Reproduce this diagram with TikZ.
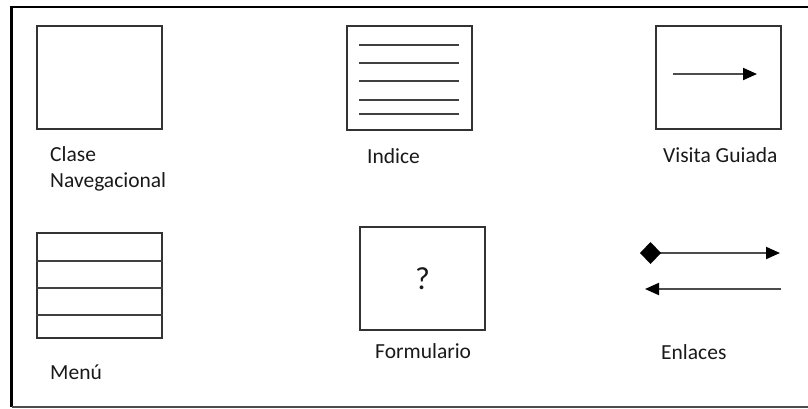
\documentclass[tikz,border=0pt]{standalone}
\usepackage{fontspec}
\setmainfont{Carlito}
\usetikzlibrary{arrows.meta}

\begin{document}
\begin{tikzpicture}[
  x=1pt, y=-1pt,
  box/.style={draw=black!80, line width=1.6pt, minimum width=125pt,
    minimum height=103pt, inner sep=0pt},
  label/.style={anchor=base west, inner sep=0pt, text=black!90,
    font=\fontsize{21.5}{26}\selectfont, align=left},
  rule/.style={draw=black!75, line width=1.6pt},
  arrow/.style={draw=black!70, line width=2pt,
    -{Triangle[length=14pt, width=12pt, color=black]}}
]
\useasboundingbox (0,0) rectangle (808,408);
% outer frame, open on the right
\draw[line width=2.4pt] (808,7) -- (11.5,7) -- (11.5,407);
\draw[black!70, line width=1.6pt] (11.5,407) -- (808,407);

\node[box] (clase) at (99.5,77.5) {};
\node[box, minimum height=104pt] (indice) at (409.5,78) {};
\node[box] (visita) at (718.5,77.5) {};
\node[box, minimum height=105pt] (menu) at (99.5,285.5) {};
\node[box] (form) at (422.5,278.5) {};
\node[label, anchor=center, font=\fontsize{32}{36}\selectfont] (qmark) at (form.center) {?};

\node[label] (lclase) at (50,187) {Clase\\Navegacional};
\node[label] (lindice) at (367,163) {Indice};
\node[label] (lvisita) at (663,162) {Visita Guiada};
\node[label] (lmenu) at (50,379) {Menú};
\node[label] (lform) at (375,358) {Formulario};
\node[label] (lenlaces) at (661,359) {Enlaces};

% index lines
\foreach \dy in {20,38,56,75,89}
  \draw[rule] ([xshift=13pt, yshift=-\dy pt]indice.north west)
    -- ([xshift=113pt, yshift=-\dy pt]indice.north west);
% menu rows
\foreach \dy in {29,56,83}
  \draw[rule] ([yshift=-\dy pt]menu.north west) -- ([yshift=-\dy pt]menu.north east);

% guided tour arrow
\coordinate (vstart) at (673,74);
\coordinate (vend) at (757,74);
\draw[arrow] (vstart) -- (vend);

% links
\coordinate (astart) at (640,253);
\coordinate (aend) at (780,253);
\coordinate (bstart) at (781,289);
\coordinate (bend) at (645,289);
\draw[arrow, {Diamond[length=21pt, width=22pt, color=black]}-{Triangle[length=14pt, width=12pt, color=black]}] (astart) -- (aend);
\draw[arrow] (bstart) -- (bend);
\end{tikzpicture}
\end{document}
